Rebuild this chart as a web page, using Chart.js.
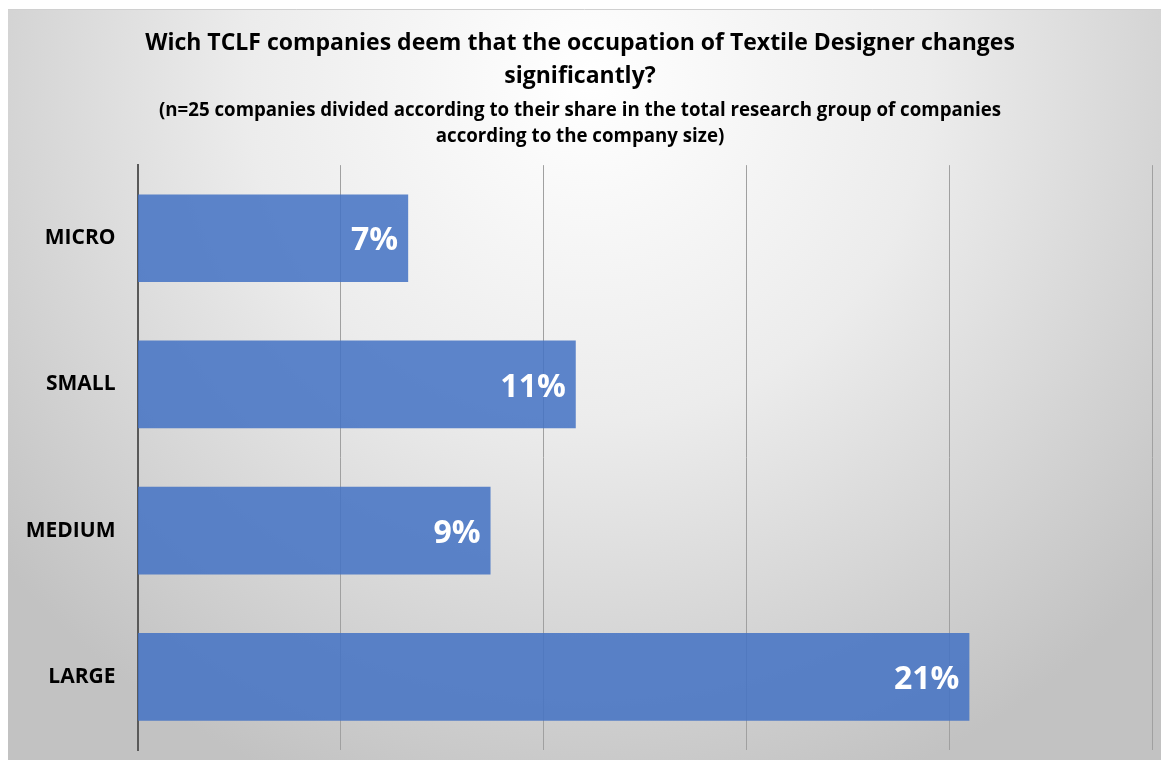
<!DOCTYPE html>
<html>
<head>
<meta charset="utf-8">
<script src="https://cdn.jsdelivr.net/npm/chart.js@4.4.1/dist/chart.umd.min.js"></script>
<style>
  html, body { margin: 0; padding: 0; background: #fff; }
  #wrap { position: absolute; left: 8px; top: 9px; width: 1153px; height: 751px; }
</style>
</head>
<body>
<div id="wrap"><canvas id="chartCanvas"></canvas></div>
<script>
const categories = ["MICRO", "SMALL", "MEDIUM", "LARGE"];
const shareValues = [6.67, 10.8, 8.7, 20.5];
const shareLabels = ["7%", "11%", "9%", "21%"];
const titleLines = [
  "Wich TCLF companies deem that the occupation of Textile Designer changes",
  "significantly?"
];
const subtitleLines = [
  "(n=25 companies divided according to their share in the total research group of companies",
  "according to the company size)"
];

const FONT = "'Open Sans', Lato, sans-serif";

// grey radial backdrop, like the slide behind the chart
const backdrop = {
  id: "backdrop",
  beforeDraw(chart) {
    const { ctx, width, height } = chart;
    const g = ctx.createRadialGradient(580, 70, 0, 580, 70, 760);
    g.addColorStop(0, "#ffffff");
    g.addColorStop(0.45, "#ececec");
    g.addColorStop(1, "#c2c2c2");
    ctx.save();
    ctx.fillStyle = g;
    ctx.fillRect(0, 0, width, height);
    ctx.strokeStyle = "#d0d0d0";
    ctx.lineWidth = 1;
    ctx.beginPath();
    ctx.moveTo(0, 0.5);
    ctx.lineTo(width, 0.5);
    ctx.stroke();
    ctx.restore();
  }
};

// white value labels inside the bar ends
const barValues = {
  id: "barValues",
  afterDatasetsDraw(chart) {
    const { ctx } = chart;
    const meta = chart.getDatasetMeta(0);
    ctx.save();
    ctx.font = "bold 32px " + FONT;
    ctx.fillStyle = "#ffffff";
    ctx.textAlign = "right";
    ctx.textBaseline = "middle";
    meta.data.forEach((bar, i) => {
      ctx.fillText(shareLabels[i], bar.x - 10, bar.y + 3);
    });
    ctx.restore();
  }
};

new Chart(document.getElementById("chartCanvas"), {
  type: "bar",
  data: {
    labels: categories,
    datasets: [{
      data: shareValues,
      backgroundColor: "rgba(68,114,196,0.86)",
      borderWidth: 0,
      categoryPercentage: 0.6,
      barPercentage: 1
    }]
  },
  options: {
    indexAxis: "y",
    responsive: true,
    maintainAspectRatio: false,
    animation: false,
    layout: { padding: { left: 0, right: 9, bottom: 10, top: 0 } },
    plugins: {
      legend: { display: false },
      tooltip: { enabled: false },
      title: {
        display: true,
        text: titleLines,
        color: "#000",
        font: { family: FONT, size: 23, weight: "bold", lineHeight: 1.43 },
        padding: { top: 18, bottom: 5 }
      },
      subtitle: {
        display: true,
        text: subtitleLines,
        color: "#000",
        font: { family: FONT, size: 18.7, weight: "bold", lineHeight: 1.4 },
        padding: { top: 0, bottom: 15 }
      }
    },
    scales: {
      x: {
        min: 0,
        max: 25,
        afterFit: (scale) => { scale.height = 0; },
        ticks: { display: false, stepSize: 5 },
        border: { display: false },
        grid: {
          drawTicks: false,
          color: (c) => c.index === 0 ? "rgba(0,0,0,0)" : "#a0a0a0",
          lineWidth: 1
        }
      },
      y: {
        afterFit: (scale) => {
          scale.width = 129.5;
          scale.paddingTop = 0;
          scale.paddingBottom = 0;
        },
        ticks: {
          color: "#000",
          padding: 22,
          font: { family: FONT, size: 21, weight: "bold" }
        },
        border: { display: true, color: "#595959", width: 2 },
        grid: { display: false, drawTicks: false }
      }
    }
  },
  plugins: [backdrop, barValues]
});
</script>
</body>
</html>
